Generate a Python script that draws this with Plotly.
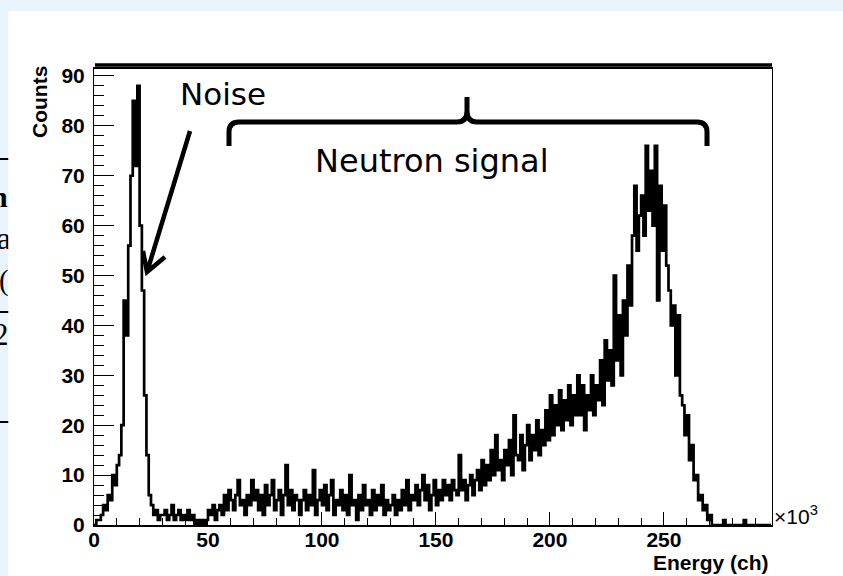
import numpy as np
import plotly.graph_objects as go

W, H = 843, 576

# Histogram: counts per 1k-channel bin, starting at channel 0
bin_width = 1.0
counts = [
    0, 1, 1, 2, 4, 3, 6, 5, 10, 8,
    12, 14, 20, 45, 38, 56, 70, 85, 72, 88,
    60, 47, 26, 14, 6, 4, 2, 3, 1, 2,
    2, 3, 1, 2, 4, 1, 2, 3, 1, 2,
    1, 3, 1, 2, 0, 1, 0, 1, 0, 1,
    3, 2, 4, 1, 3, 4, 2, 6, 3, 7,
    5, 3, 6, 9, 4, 5, 2, 6, 4, 9,
    5, 7, 3, 6, 2, 8, 4, 6, 9, 3,
    5, 7, 2, 6, 12, 4, 7, 3, 6, 5,
    2, 5, 7, 3, 6, 4, 11, 2, 5, 7,
    4, 8, 3, 6, 9, 2, 5, 4, 7, 3,
    6, 2, 10, 4, 5, 1, 6, 3, 8, 4,
    5, 2, 7, 3, 6, 4, 8, 2, 5, 3,
    4, 6, 2, 5, 3, 7, 4, 9, 3, 6,
    5, 8, 4, 7, 10, 5, 8, 3, 6, 9,
    4, 7, 5, 9, 6, 8, 5, 9, 7, 6,
    14, 7, 9, 5, 8, 10, 6, 9, 11, 7,
    13, 8, 12, 9, 15, 10, 18, 11, 13, 9,
    15, 12, 17, 10, 22, 14, 13, 18, 11, 16,
    20, 13, 18, 15, 21, 14, 19, 16, 23, 17,
    26, 18, 24, 20, 27, 19, 25, 21, 28, 20,
    26, 22, 30, 22, 28, 19, 26, 23, 30, 22,
    28, 25, 33, 24, 37, 29, 35, 28, 50, 33,
    42, 30, 45, 38, 52, 44, 58, 68, 55, 62,
    66, 58, 76, 63, 71, 60, 76, 45, 68, 55,
    64, 52, 47, 40, 44, 30, 42, 26, 24, 18,
    22, 13, 16, 9, 10, 5, 6, 3, 4, 1,
    2, 0, 0, 0, 0, 0, 1, 0, 0, 0,
    0, 0, 0, 0, 0, 1, 0, 0, 0, 0,
    0, 0, 0, 0, 0, 0, 0,
]

x_range = [0, 297.4]
y_range = [0, 91.5]
x_major, x_minor = 50, 10
y_major, y_minor = 10, 2

edges = np.arange(len(counts) + 1) * bin_width
steps = list(counts) + [counts[-1]]


def px(x):
    return x / W


def py(y):
    return 1 - y / H


def path(group):
    cmds = []
    for c, pts in group:
        coords = " ".join(f"{px(a):.5f},{py(b):.5f}" for a, b in pts)
        cmds.append(f"{c} {coords}")
    return " ".join(cmds)


fig = go.Figure()

fig.add_trace(go.Scatter(
    x=edges, y=steps, mode="lines", line_shape="hv",
    line=dict(color="black", width=2.7),
    hoverinfo="skip", showlegend=False,
))

# clipped text fragments in the narrow strip on the left
frag_text = ["ni", "a", "(1", "2"]
frag_x = [-9.0, -3.0, -1.0, -7.0]
frag_y = [199, 241, 283, 337]
frag_size = [30, 31, 29, 31]
frag_weight = ["bold", "normal", "normal", "normal"]
for t, fx, fy, fs, fw in zip(frag_text, frag_x, frag_y, frag_size, frag_weight):
    fig.add_trace(go.Scatter(
        x=[fx], y=[fy], mode="text", text=[t], textposition="middle right",
        textfont=dict(family="Liberation Serif", size=fs, color="black", weight=fw),
        xaxis="x2", yaxis="y2", cliponaxis=True, hoverinfo="skip", showlegend=False,
    ))

tick_font = dict(family="Liberation Sans", size=21, color="black", weight="bold")

fig.update_layout(
    width=W, height=H, autosize=False,
    margin=dict(l=0, r=0, t=0, b=0, pad=0),
    paper_bgcolor="white", plot_bgcolor="rgba(0,0,0,0)",
    xaxis=dict(
        domain=[px(94), px(772)], range=x_range, anchor="y",
        showgrid=False, zeroline=False, automargin=False,
        showline=True, linecolor="black", linewidth=1.5, mirror=True,
        ticks="inside", ticklen=13, tickwidth=1, tickcolor="black",
        tick0=0, dtick=x_major, tickfont=tick_font, ticklabelstandoff=-5,
        minor=dict(ticks="inside", ticklen=7, tickwidth=1, tickcolor="black", dtick=x_minor, tick0=0),
    ),
    yaxis=dict(
        domain=[py(525), py(68.5)], range=y_range, anchor="x",
        showgrid=False, zeroline=False, automargin=False,
        showline=True, linecolor="black", linewidth=1, mirror=True,
        ticks="inside", ticklen=20, tickwidth=1, tickcolor="black",
        tick0=0, dtick=y_major, tickfont=tick_font, ticklabelstandoff=4,
        minor=dict(ticks="inside", ticklen=10, tickwidth=1, tickcolor="black", dtick=y_minor, tick0=0),
    ),
    xaxis2=dict(domain=[0, px(8.3)], range=[0, 8.3], visible=False, anchor="y2", fixedrange=True),
    yaxis2=dict(domain=[0, py(11)], range=[H, 11], visible=False, anchor="x2", fixedrange=True),
)

blue = "#eaf4fd"
shapes = [
    dict(type="rect", xref="paper", yref="paper", x0=0, x1=1, y0=py(11), y1=1,
         fillcolor=blue, line=dict(width=0), layer="below"),
    dict(type="rect", xref="paper", yref="paper", x0=0, x1=px(8.3), y0=0, y1=py(11),
         fillcolor=blue, line=dict(width=0), layer="below"),
    # heavy upper frame edge
    dict(type="line", xref="paper", yref="paper", x0=px(95), x1=px(772), y0=py(65), y1=py(65),
         line=dict(color="black", width=3.5)),
]
for ly in [159, 312, 422]:
    shapes.append(dict(type="line", xref="paper", yref="paper", x0=0, x1=px(8.3),
                       y0=py(ly), y1=py(ly), line=dict(color="black", width=2)))

# curly brace spanning the neutron region
brace = path([
    ("M", [(229, 146)]), ("L", [(229, 132)]), ("Q", [(229, 122), (239, 122)]),
    ("L", [(457, 122)]), ("Q", [(467, 122), (467, 111)]), ("L", [(467, 97)]),
    ("M", [(467, 111)]), ("Q", [(467, 122), (477, 122)]),
    ("L", [(697, 122)]), ("Q", [(707, 122), (707, 132)]), ("L", [(707, 146)]),
])
shapes.append(dict(type="path", xref="paper", yref="paper", path=brace,
                   line=dict(color="black", width=5)))

# arrow pointing at the noise peak
arrow = path([
    ("M", [(190, 131)]), ("L", [(147, 272)]),
    ("M", [(143, 251)]), ("L", [(147, 272)]), ("L", [(165, 257)]),
])
shapes.append(dict(type="path", xref="paper", yref="paper", path=arrow,
                   line=dict(color="black", width=4.5)))
fig.update_layout(shapes=shapes)

label_font = dict(family="Liberation Sans", size=21, color="black", weight="bold")
annotations = [
    dict(text="Counts", x=px(39), y=py(64), xref="paper", yref="paper",
         xanchor="center", yanchor="top", textangle=-90, showarrow=False, font=label_font),
    dict(text="Energy (ch)", x=px(771), y=py(562), xref="paper", yref="paper",
         xanchor="right", yanchor="middle", showarrow=False, font=label_font),
    dict(text="×10<sup>3</sup>", x=px(772), y=py(515), xref="paper", yref="paper",
         xanchor="left", yanchor="middle", showarrow=False,
         font=dict(family="Liberation Sans", size=21, color="black")),
    dict(text="Noise", x=px(178), y=py(94), xref="paper", yref="paper",
         xanchor="left", yanchor="middle", showarrow=False,
         font=dict(family="DejaVu Sans", size=31, color="black")),
    dict(text="Neutron signal", x=px(432), y=py(161), xref="paper", yref="paper",
         xanchor="center", yanchor="middle", showarrow=False,
         font=dict(family="DejaVu Sans", size=32, color="black")),
]
fig.update_layout(annotations=annotations)

fig.write_html("out.html")
